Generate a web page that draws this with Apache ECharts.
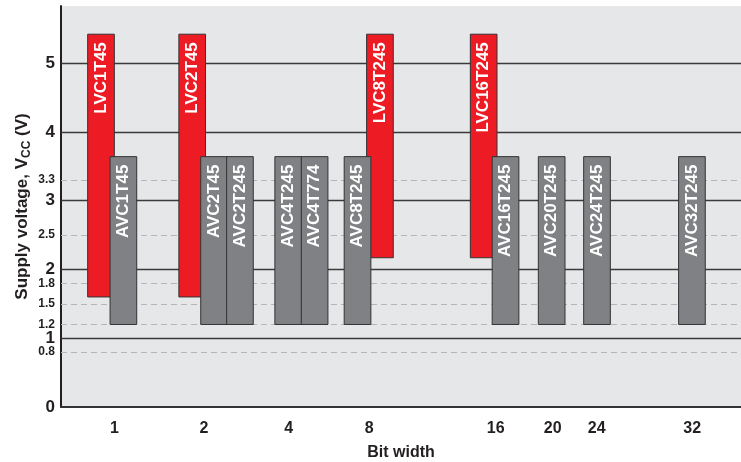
<!DOCTYPE html>
<html>
<head>
<meta charset="utf-8">
<script src="https://cdn.jsdelivr.net/npm/echarts@6/dist/echarts.min.js"></script>
<style>
  html, body { margin: 0; padding: 0; background: #fff; }
  #chart { width: 741px; height: 462px; }
</style>
</head>
<body>
<div id="chart"></div>
<script>
// supply voltage ranges per translator part

// parts, in the order they sit along the bit-width axis
const parts = ['LVC1T45', 'AVC1T45', 'LVC2T45', 'AVC2T45', 'AVC2T245', 'AVC4T245', 'AVC4T774',
    'AVC8T245', 'LVC8T245', 'LVC16T245', 'AVC16T245', 'AVC20T245', 'AVC24T245', 'AVC32T245'];
// left edge of each part on the bit-width axis (axis units = one bar wide)
const slots = [1.0, 1.84, 4.42, 5.24, 6.21, 8.02, 9.01, 10.62, 11.46, 15.35, 16.17, 17.9, 19.6, 23.16];
const vccLow = [1.6, 1.2, 1.6, 1.2, 1.2, 1.2, 1.2, 1.2, 2.17, 2.17, 1.2, 1.2, 1.2, 1.2];
const vccHigh = [5.42, 3.64, 5.42, 3.64, 3.64, 3.64, 3.64, 3.64, 5.42, 5.42, 3.64, 3.64, 3.64, 3.64];

// bit width tick labels and where they sit on the axis
const bitWidths = ['1', '2', '4', '8', '16', '20', '24', '32'];
const bitTickSlots = [2.0, 5.36, 8.54, 11.56, 16.3, 18.44, 20.09, 23.67];

// voltage ticks
const majorVolts = [0, 1, 2, 3, 4, 5];
const minorVolts = [0.8, 1.2, 1.5, 1.8, 2.5, 3.3];

const FONT = '"Liberation Sans", Arial, Helvetica, sans-serif';

function familySeries(prefix, color) {
    const idx = parts.map((p, i) => i).filter(i => parts[i].slice(0, 3) === prefix);
    return {
        type: 'custom',
        z: 8,
        encode: { x: 0, y: [1, 2] },
        data: idx.map(i => [slots[i], vccLow[i], vccHigh[i]]),
        renderItem: (params, api) => {
            const i = idx[params.dataIndex];
            const p1 = api.coord([api.value(0), api.value(2)]);
            const p2 = api.coord([api.value(0) + 1, api.value(1)]);
            return {
                type: 'group',
                children: [{
                    type: 'rect',
                    shape: { x: p1[0], y: p1[1], width: p2[0] - p1[0], height: p2[1] - p1[1] },
                    style: { fill: color, stroke: '#333', lineWidth: 1 }
                }, {
                    type: 'text',
                    x: (p1[0] + p2[0]) / 2,
                    y: p1[1] + 8,
                    rotation: Math.PI / 2,
                    style: {
                        text: parts[i],
                        fill: '#fff',
                        fontFamily: FONT,
                        fontWeight: 'bold',
                        fontSize: 17,
                        align: 'right',
                        verticalAlign: 'middle'
                    }
                }]
            };
        }
    };
}

const gridLines = majorVolts.filter(v => v > 0).map(v => ({
    yAxis: v, lineStyle: { color: '#3a3a3a', width: 1.3, type: 'solid' }
})).concat(minorVolts.map(v => ({
    yAxis: v, lineStyle: { color: '#b4b5b8', width: 1.2, type: [6, 4] }
})));

const option = {
    animation: false,
    backgroundColor: '#fff',
    grid: {
        left: 61, right: 0, top: 6, bottom: 55, outerBoundsMode: 'none',
        show: true, backgroundColor: '#e6e7e9', borderWidth: 0
    },
    xAxis: {
        type: 'value',
        min: 0,
        max: 25.5,
        name: 'Bit width',
        nameLocation: 'middle',
        nameGap: 38,
        nameMoveOverlap: false,
        nameTextStyle: { fontFamily: FONT, fontWeight: 'bold', fontSize: 16, color: '#231f20' },
        axisLine: { show: true, lineStyle: { color: '#333', width: 2 } },
        axisTick: { show: false },
        splitLine: { show: false },
        axisLabel: {
            customValues: bitTickSlots,
            margin: 14,
            fontFamily: FONT,
            fontWeight: 'bold',
            fontSize: 16,
            color: '#231f20',
            formatter: v => {
                let best = 0;
                bitTickSlots.forEach((s, i) => { if (Math.abs(s - v) < Math.abs(bitTickSlots[best] - v)) best = i; });
                return bitWidths[best];
            }
        }
    },
    yAxis: {
        type: 'value',
        min: 0,
        max: 5.83,
        name: 'Supply voltage, V{sub|CC} (V)',
        nameLocation: 'middle',
        nameGap: 28,
        nameMoveOverlap: false,
        nameTextStyle: {
            fontFamily: FONT, fontWeight: 'bold', fontSize: 17, color: '#231f20', lineHeight: 21,
            rich: { sub: { fontFamily: FONT, fontWeight: 'bold', fontSize: 12, color: '#231f20', verticalAlign: 'bottom', lineHeight: 21 } }
        },
        axisLine: { show: true, lineStyle: { color: '#231f20', width: 2 } },
        axisTick: { show: false },
        splitLine: { show: false },
        axisLabel: {
            customValues: majorVolts.concat(minorVolts).sort((a, b) => a - b),
            margin: 6,
            color: '#231f20',
            formatter: v => majorVolts.indexOf(v) >= 0 ? '{b|' + v + '}' : '{s|' + v + '}',
            rich: {
                b: { fontFamily: FONT, fontWeight: 'bold', fontSize: 17, color: '#231f20' },
                s: { fontFamily: FONT, fontWeight: 'bold', fontSize: 12, color: '#231f20' }
            }
        }
    },
    series: [{
        type: 'line',
        z: 1,
        data: [],
        silent: true,
        markLine: {
            z: 1,
            silent: true,
            symbol: 'none',
            label: { show: false },
            data: gridLines
        }
    },
    familySeries('LVC', '#ed1c24'),
    familySeries('AVC', '#808184')]
};

const chart = echarts.init(document.getElementById('chart'));
chart.setOption(option);
</script>
</body>
</html>
